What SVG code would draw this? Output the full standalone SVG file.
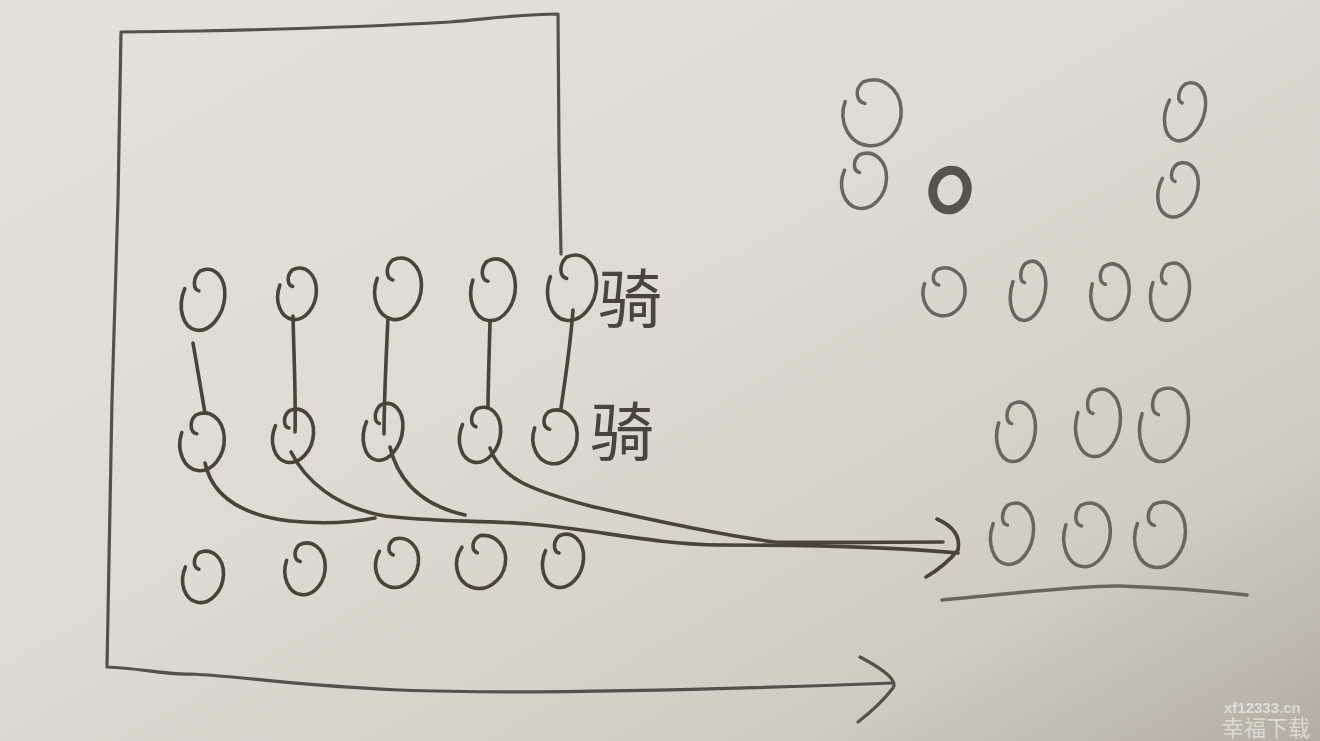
<svg xmlns="http://www.w3.org/2000/svg" xmlns:xlink="http://www.w3.org/1999/xlink" width="1320" height="741" viewBox="0 0 1320 741">
<defs>
<linearGradient id="paper" x1="0" y1="0" x2="1" y2="1">
<stop offset="0" stop-color="#e3e1da"/>
<stop offset="0.45" stop-color="#dedbd2"/>
<stop offset="0.8" stop-color="#d0ccc2"/>
<stop offset="1" stop-color="#b3ada1"/>
</linearGradient>
<path id="ring" d="M -0.3,-0.25 C -0.6,-0.25 -0.75,-0.6 -0.5,-0.87 A 1 1 0 1 1 -0.98,-0.2" vector-effect="non-scaling-stroke"/>
</defs>
<style>
.ink{fill:none;stroke:#4a433a;stroke-width:3.6;stroke-linecap:round;stroke-linejoin:round}
.ring{fill:none;stroke:#4a433a;stroke-width:3.6;stroke-linecap:round}
.ringl{fill:none;stroke:#6a655d;stroke-width:3.5;stroke-linecap:round}
.frame{fill:none;stroke:#55504a;stroke-width:3.2;stroke-linecap:round;stroke-linejoin:round}
.han{font-family:"Noto Sans CJK SC","Noto Sans CJK JP",sans-serif;font-size:64px;fill:#4a443c}
.wm{font-family:"Liberation Sans","Noto Sans CJK SC",sans-serif;fill:#ffffff;fill-opacity:0.55}
</style>
<rect width="1320" height="741" fill="url(#paper)"/>

<g id="connectors">
<path class="frame" d="M 561,254 L 559,150 L 558,14 C 520,14 480,20 450,22 C 380,26 300,29 200,31 L 121,32 L 118,200 L 112,400 L 109,560 L 107,667 C 140,668 165,675 190,674 C 240,676 300,686 400,690 C 500,694 650,692 893,683"/>
<path class="frame" d="M 860,657 Q 900,678 893,688 Q 880,705 858,722"/>
<path class="ink" d="M 193,343 L 205,413"/>
<path class="ink" d="M 293,316 C 294,360 296,400 295,432"/>
<path class="ink" d="M 388,318 C 386,360 384,400 384,434"/>
<path class="ink" d="M 490,322 C 489,360 488,390 488,408"/>
<path class="ink" d="M 573,310 C 570,350 565,380 561,408"/>
<path class="ink" d="M 205,463 C 212,495 240,515 290,521 C 320,524 350,523 375,518"/>
<path class="ink" d="M 291,452 C 305,480 335,507 385,516 C 430,522 480,520 530,524 C 600,530 650,544 720,545 C 800,545 880,546 958,553"/>
<path class="ink" d="M 390,447 C 398,480 420,505 465,515"/>
<path class="ink" d="M 490,448 C 500,478 530,490 590,506 C 660,522 720,535 775,542 C 830,543 890,542 943,542"/>
<path class="ink" d="M 937,519 Q 962,530 958,550 Q 945,566 926,577"/>
<path class="ringl" d="M 942,600 C 1000,595 1080,585 1120,586 C 1180,588 1220,592 1247,595"/>
</g>

<g id="n1_1"><use href="#ring" class="ring" transform="translate(203,300) rotate(15) scale(21,31)"/></g>
<g id="n1_2"><use href="#ring" class="ring" transform="translate(297,294) rotate(12) scale(19,26)"/></g>
<g id="n1_3"><use href="#ring" class="ring" transform="translate(398,289) rotate(12) scale(23,31)"/></g>
<g id="n1_4"><use href="#ring" class="ring" transform="translate(493,290) rotate(10) scale(22,31)"/></g>
<g id="n1_5"><use href="#ring" class="ring" transform="translate(572,288) rotate(12) scale(24,33)"/></g>
<g id="n2_1"><use href="#ring" class="ring" transform="translate(202,442) rotate(10) scale(22,29)"/></g>
<g id="n2_2"><use href="#ring" class="ring" transform="translate(293,436) rotate(15) scale(20,27)"/></g>
<g id="n2_3"><use href="#ring" class="ring" transform="translate(383,432) rotate(15) scale(19,29)"/></g>
<g id="n2_4"><use href="#ring" class="ring" transform="translate(480,435) rotate(15) scale(20,28)"/></g>
<g id="n2_5"><use href="#ring" class="ring" transform="translate(555,437) rotate(10) scale(22,27)"/></g>
<g id="n3_1"><use href="#ring" class="ring" transform="translate(203,577) rotate(15) scale(20,26)"/></g>
<g id="n3_2"><use href="#ring" class="ring" transform="translate(305,569) rotate(10) scale(20,26)"/></g>
<g id="n3_3"><use href="#ring" class="ring" transform="translate(397,563) rotate(20) scale(21,25)"/></g>
<g id="n3_4"><use href="#ring" class="ring" transform="translate(481,562) rotate(25) scale(24,27)"/></g>
<g id="n3_5"><use href="#ring" class="ring" transform="translate(563,561) rotate(15) scale(20,27)"/></g>

<g id="label1"><text class="han" x="598" y="322">骑</text></g>
<g id="label2"><text class="han" x="590" y="455">骑</text></g>

<g id="r1"><use href="#ring" class="ringl" transform="translate(872,113) rotate(10) scale(29,33)"/></g>
<g id="r2"><use href="#ring" class="ringl" transform="translate(864,181) rotate(15) scale(22,28)"/></g>
<g id="r3"><ellipse cx="950" cy="190" rx="17" ry="20" transform="rotate(15 950 190)" fill="none" stroke="#57524b" stroke-width="9"/></g>
<g id="r4"><use href="#ring" class="ringl" transform="translate(1185,112) rotate(20) scale(19,30)"/></g>
<g id="r5"><use href="#ring" class="ringl" transform="translate(1178,190) rotate(20) scale(19,28)"/></g>
<g id="r6"><use href="#ring" class="ringl" transform="translate(944,292) rotate(10) scale(21,24)"/></g>
<g id="r7"><use href="#ring" class="ringl" transform="translate(1028,291) rotate(12) scale(17,30)"/></g>
<g id="r8"><use href="#ring" class="ringl" transform="translate(1110,292) rotate(8) scale(19,28)"/></g>
<g id="r9"><use href="#ring" class="ringl" transform="translate(1170,292) rotate(12) scale(19,29)"/></g>
<g id="r10"><use href="#ring" class="ringl" transform="translate(1016,432) rotate(10) scale(19,30)"/></g>
<g id="r11"><use href="#ring" class="ringl" transform="translate(1098,423) rotate(10) scale(22,34)"/></g>
<g id="r12"><use href="#ring" class="ringl" transform="translate(1164,425) rotate(10) scale(24,37)"/></g>
<g id="r13"><use href="#ring" class="ringl" transform="translate(1012,534) rotate(12) scale(21,31)"/></g>
<g id="r14"><use href="#ring" class="ringl" transform="translate(1087,535) rotate(10) scale(23,32)"/></g>
<g id="r15"><use href="#ring" class="ringl" transform="translate(1160,535) rotate(12) scale(25,33)"/></g>

<g id="watermark">
<text class="wm" x="1224" y="713" font-size="15" font-weight="bold">xf12333.cn</text>
<text class="wm" x="1222" y="736" font-size="22">幸福下载</text>
</g>
</svg>
